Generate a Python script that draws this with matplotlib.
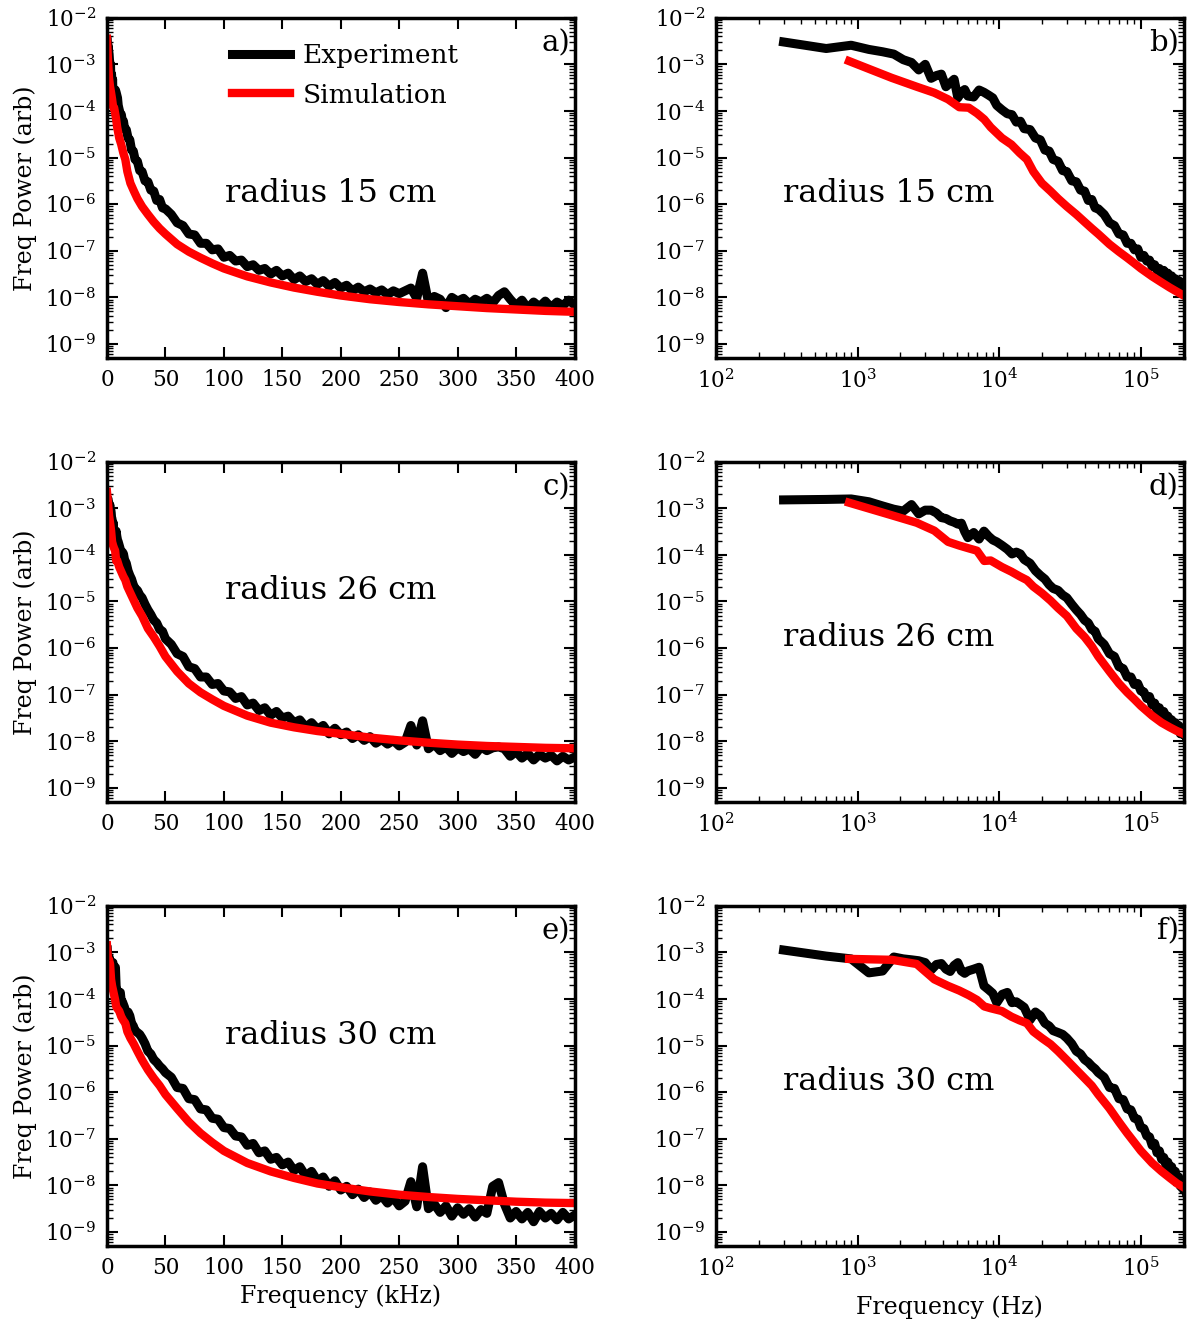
import numpy as np
import matplotlib
matplotlib.use("Agg")
import matplotlib.pyplot as plt
from matplotlib.ticker import (LogLocator, MultipleLocator, NullFormatter,
                               LogFormatterMathtext, FixedLocator)

plt.rcParams["font.family"] = ["DejaVu Serif"]
plt.rcParams["mathtext.fontset"] = "dejavuserif"

# frequency bins (kHz) of the measured spectra
exp_freq_khz = [0.3, 0.6, 0.9, 1.2, 1.5, 1.8, 2.1, 2.4, 2.7, 3.0,
                3.3, 3.6, 3.9, 4.2, 4.5, 4.8, 5.1, 5.4, 5.7, 6.0,
                6.6, 7.2, 7.8, 8.4, 9.0, 9.6,
                10.5, 11.4, 12.3, 13.2, 14.1, 15.0,
                16.5, 18.0, 19.5, 21.0, 22.5,
                24.0, 26.0, 28.0, 30.0,
                32.5, 35.0, 37.5, 40.0, 42.5, 45.0, 47.5, 50.0] + list(range(55, 401, 5))

# frequency points (kHz) of the simulated spectra
sim_freq_khz = [0.0, 0.87, 1.74, 2.61, 3.48, 4.35, 5.22, 6.09, 6.96, 7.83, 8.70,
                10.44, 12.18, 13.92, 15.66, 17.4,
                20, 23, 26, 30, 35, 40, 45, 50,
                60, 70, 80, 90, 100,
                120, 140, 160, 180, 200,
                225, 250, 275, 300, 325, 350, 375, 400]

# log10 of power
exp_r15 = [-2.52, -2.66, -2.59, -2.68, -2.73, -2.78, -2.90, -2.96, -3.12, -3.00,
           -3.30, -3.24, -3.21, -3.48, -3.40, -3.32, -3.72, -3.60, -3.54, -3.68,
           -3.70, -3.55, -3.60, -3.66, -3.72, -3.88,
           -3.98, -4.06, -4.08, -4.24, -4.22, -4.38,
           -4.40, -4.58, -4.62, -4.84, -4.86,
           -5.04, -5.08, -5.28, -5.30,
           -5.50, -5.52, -5.70, -5.72, -5.92, -5.90, -6.08, -6.10,
           -6.22, -6.40, -6.46, -6.64, -6.66, -6.84, -6.84, -6.98, -6.96, -7.14,
           -7.10, -7.22, -7.20, -7.34, -7.30, -7.42, -7.38, -7.50, -7.42, -7.54,
           -7.48, -7.62, -7.54, -7.66, -7.60, -7.72, -7.64, -7.76, -7.68, -7.80,
           -7.74, -7.86, -7.78, -7.88, -7.82, -7.90, -7.84, -7.94, -7.86, -7.92,
           -7.86, -7.80, -8.02, -7.48, -8.10, -7.98, -8.04, -8.22, -8.00, -8.08,
           -8.02, -8.14, -8.04, -8.10, -8.02, -8.12, -7.96, -7.88, -8.04, -8.18,
           -8.06, -8.24, -8.10, -8.20, -8.08, -8.22, -8.10, -8.18, -8.06, -8.16]

sim_r15 = [-2.45, -2.93, -3.29, -3.48, -3.61, -3.75, -3.92, -3.93, -4.05, -4.18, -4.35,
           -4.58, -4.72, -4.90, -5.04, -5.30,
           -5.55, -5.72, -5.88, -6.05, -6.22, -6.38, -6.52, -6.64,
           -6.86, -7.02, -7.15, -7.27, -7.38,
           -7.55, -7.68, -7.79, -7.88, -7.96,
           -8.04, -8.10, -8.15, -8.19, -8.23, -8.26, -8.29, -8.31]

exp_r26 = [-2.82, -2.81, -2.80, -2.86, -2.95, -3.02, -3.06, -2.92, -3.12, -3.04,
           -3.04, -3.10, -3.20, -3.22, -3.27, -3.30, -3.34, -3.32, -3.50, -3.63,
           -3.52, -3.66, -3.49, -3.60, -3.68, -3.72,
           -3.80, -3.88, -3.98, -3.94, -3.98, -4.10,
           -4.18, -4.34, -4.44, -4.52, -4.64,
           -4.72, -4.76, -4.86, -4.92,
           -5.06, -5.18, -5.28, -5.40, -5.46, -5.60, -5.64, -5.80,
           -5.92, -6.12, -6.18, -6.40, -6.44, -6.62, -6.62, -6.78, -6.76, -6.92,
           -6.94, -7.08, -7.04, -7.22, -7.18, -7.34, -7.28, -7.44, -7.36, -7.50,
           -7.46, -7.60, -7.54, -7.70, -7.60, -7.74, -7.66, -7.84, -7.72, -7.86,
           -7.80, -7.94, -7.86, -7.98, -7.90, -8.04, -7.96, -8.06, -7.98, -8.10,
           -8.02, -7.66, -8.08, -7.56, -8.16, -8.06, -8.20, -8.12, -8.26, -8.14,
           -8.22, -8.16, -8.28, -8.12, -8.20, -8.14, -8.12, -8.16, -8.32, -8.22,
           -8.36, -8.26, -8.40, -8.28, -8.36, -8.30, -8.42, -8.32, -8.40, -8.34]

sim_r26 = [-2.65, -2.88, -3.15, -3.31, -3.48, -3.72, -3.80, -3.86, -3.91, -4.13, -4.12,
           -4.26, -4.36, -4.46, -4.54, -4.68,
           -4.82, -4.98, -5.14, -5.31, -5.58, -5.76, -5.96, -6.18,
           -6.50, -6.76, -6.95, -7.10, -7.24,
           -7.45, -7.60, -7.70, -7.78, -7.84,
           -7.92, -7.98, -8.03, -8.07, -8.10, -8.12, -8.14, -8.15]

exp_r30 = [-2.95, -3.08, -3.14, -3.44, -3.40, -3.10, -3.14, -3.16, -3.18, -3.22,
           -3.38, -3.26, -3.24, -3.36, -3.41, -3.28, -3.22, -3.40, -3.45, -3.40,
           -3.36, -3.32, -3.72, -3.80, -3.88, -4.08,
           -3.90, -3.86, -4.08, -4.06, -4.12, -4.18,
           -4.45, -4.28, -4.36, -4.52, -4.58,
           -4.68, -4.72, -4.76, -4.84,
           -4.96, -5.12, -5.18, -5.30, -5.36, -5.44, -5.50, -5.58,
           -5.68, -5.90, -5.92, -6.14, -6.16, -6.36, -6.38, -6.56, -6.58, -6.76,
           -6.78, -6.94, -6.96, -7.14, -7.10, -7.30, -7.26, -7.44, -7.40, -7.56,
           -7.50, -7.68, -7.60, -7.80, -7.70, -7.90, -7.82, -8.02, -7.90, -8.10,
           -8.02, -8.20, -8.08, -8.26, -8.14, -8.32, -8.22, -8.38, -8.26, -8.44,
           -8.34, -7.92, -8.46, -7.60, -8.50, -8.40, -8.58, -8.44, -8.66, -8.48,
           -8.62, -8.50, -8.68, -8.52, -8.60, -8.02, -7.94, -8.40, -8.70, -8.56,
           -8.72, -8.58, -8.78, -8.56, -8.70, -8.60, -8.74, -8.58, -8.72, -8.64]

sim_r30 = [-2.85, -3.14, -3.16, -3.25, -3.58, -3.72, -3.82, -3.92, -4.02, -4.16, -4.20,
           -4.26, -4.38, -4.46, -4.52, -4.70,
           -4.84, -4.97, -5.12, -5.31, -5.52, -5.70, -5.86, -6.05,
           -6.35, -6.64, -6.88, -7.08, -7.26,
           -7.52, -7.70, -7.84, -7.96, -8.04,
           -8.13, -8.20, -8.25, -8.29, -8.32, -8.35, -8.37, -8.38]

radius_labels = ["radius 15 cm", "radius 26 cm", "radius 30 cm"]
left_tags = ["a)", "c)", "e)"]
right_tags = ["b)", "d)", "f)"]

exp_sets = [exp_r15, exp_r26, exp_r30]
sim_sets = [sim_r15, sim_r26, sim_r30]

y_decades = [1e-9, 1e-8, 1e-7, 1e-6, 1e-5, 1e-4, 1e-3, 1e-2]


def style_axis(ax):
    for sp in ax.spines.values():
        sp.set_linewidth(2.5)
    ax.tick_params(which="both", direction="in", top=True, right=True,
                   labelsize=15.5, pad=8)
    ax.tick_params(which="major", length=8, width=1.5)
    ax.tick_params(which="minor", length=4, width=1.0)
    ax.set_yscale("log")
    ax.set_ylim(5e-10, 1e-2)
    ax.yaxis.set_major_locator(FixedLocator(y_decades))
    ax.yaxis.set_minor_locator(LogLocator(base=10, subs=np.arange(2, 10), numticks=15))
    ax.yaxis.set_minor_formatter(NullFormatter())
    ax.yaxis.set_major_formatter(LogFormatterMathtext())


fig = plt.figure(figsize=(11.89, 13.24), dpi=100)

row_bottoms = [0.7296, 0.3943, 0.0589]
row_height = 0.2570
left_x, right_x, col_w = 0.0900, 0.6022, 0.3932

ef = np.array(exp_freq_khz)
sf = np.array(sim_freq_khz)

for i in range(3):
    ey = 10 ** np.array(exp_sets[i])
    sy = 10 ** np.array(sim_sets[i])

    # linear frequency panel (kHz)
    ax = fig.add_axes([left_x, row_bottoms[i], col_w, row_height])
    ax.plot(ef, ey, color="black", lw=6.5, label="Experiment")
    ax.plot(sf, sy, color="red", lw=6.0, label="Simulation")
    style_axis(ax)
    ax.set_xlim(0, 400)
    ax.xaxis.set_major_locator(MultipleLocator(50))
    ax.set_ylabel("Freq Power (arb)", fontsize=17, labelpad=6)
    ax.text(0.99, 0.924, left_tags[i], transform=ax.transAxes, ha="right",
            va="center", fontsize=21)
    ty = 0.484 if i == 0 else 0.62
    ax.text(0.252, ty, radius_labels[i], transform=ax.transAxes, ha="left",
            va="center", fontsize=23)
    if i == 0:
        ax.legend(loc="upper center", bbox_to_anchor=(0.51, 0.995), frameon=False,
                  fontsize=19, handlelength=2.2, handletextpad=0.5,
                  labelspacing=0.55)
    if i == 2:
        ax.set_xlabel("Frequency (kHz)", fontsize=17, labelpad=4)

    # log frequency panel (Hz)
    ax2 = fig.add_axes([right_x, row_bottoms[i], col_w, row_height])
    m = sf > 0
    ax2.plot(ef * 1000, ey, color="black", lw=6.5)
    ax2.plot(sf[m] * 1000, sy[m], color="red", lw=6.0)
    style_axis(ax2)
    ax2.set_xscale("log")
    ax2.set_xlim(1e2, 2e5)
    ax2.xaxis.set_major_locator(FixedLocator([1e2, 1e3, 1e4, 1e5]))
    ax2.xaxis.set_minor_formatter(NullFormatter())
    ax2.text(0.99, 0.924, right_tags[i], transform=ax2.transAxes, ha="right",
             va="center", fontsize=21)
    ax2.text(0.143, 0.484, radius_labels[i], transform=ax2.transAxes, ha="left",
             va="center", fontsize=23)
    if i == 2:
        ax2.set_xlabel("Frequency (Hz)", fontsize=17, labelpad=10)

fig.savefig("out.png", dpi=100)
